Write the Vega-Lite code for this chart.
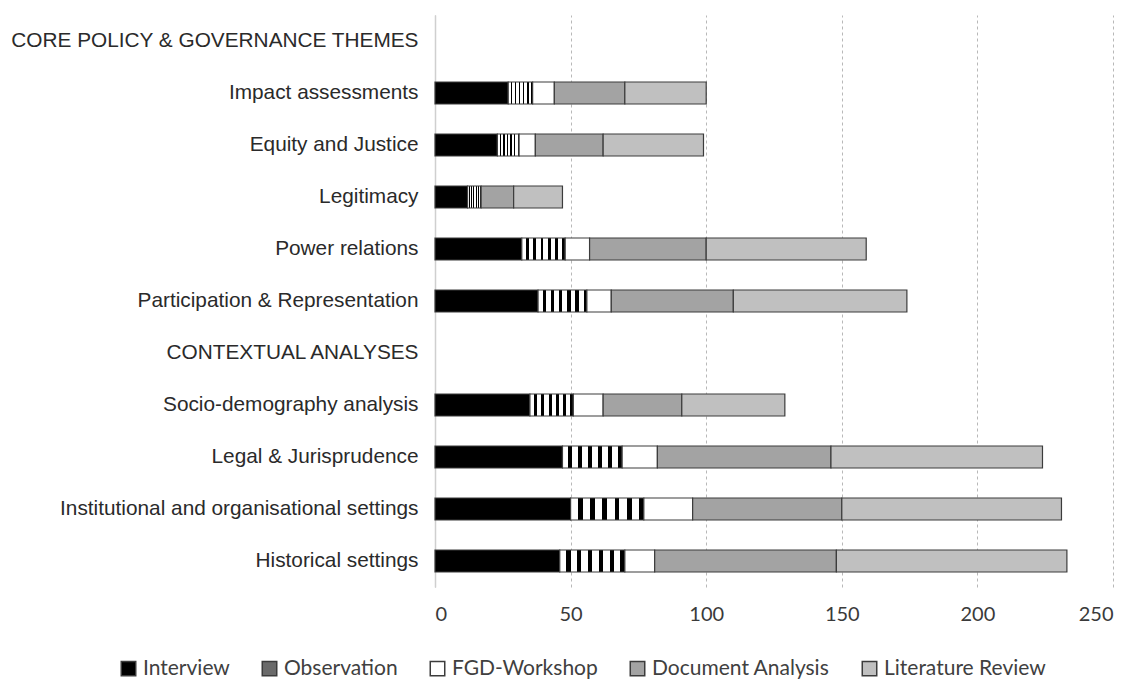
{
  "$schema": "https://vega.github.io/schema/vega-lite/v6.json",
  "width": 678,
  "height": 572,
  "autosize": {"type": "none"},
  "padding": {"left": 435, "top": 15, "right": 24, "bottom": 93},
  "background": "white",
  "data": {
    "values": [
      {"theme": "Impact assessments", "method": "Interview", "count": 27},
      {"theme": "Impact assessments", "method": "Observation", "count": 9},
      {"theme": "Impact assessments", "method": "FGD-Workshop", "count": 8},
      {"theme": "Impact assessments", "method": "Document Analysis", "count": 26},
      {"theme": "Impact assessments", "method": "Literature Review", "count": 30},
      {"theme": "Equity and Justice", "method": "Interview", "count": 23},
      {"theme": "Equity and Justice", "method": "Observation", "count": 8},
      {"theme": "Equity and Justice", "method": "FGD-Workshop", "count": 6},
      {"theme": "Equity and Justice", "method": "Document Analysis", "count": 25},
      {"theme": "Equity and Justice", "method": "Literature Review", "count": 37},
      {"theme": "Legitimacy", "method": "Interview", "count": 12},
      {"theme": "Legitimacy", "method": "Observation", "count": 5},
      {"theme": "Legitimacy", "method": "Document Analysis", "count": 12},
      {"theme": "Legitimacy", "method": "Literature Review", "count": 18},
      {"theme": "Power relations", "method": "Interview", "count": 32},
      {"theme": "Power relations", "method": "Observation", "count": 16},
      {"theme": "Power relations", "method": "FGD-Workshop", "count": 9},
      {"theme": "Power relations", "method": "Document Analysis", "count": 43},
      {"theme": "Power relations", "method": "Literature Review", "count": 59},
      {"theme": "Participation & Representation", "method": "Interview", "count": 38},
      {"theme": "Participation & Representation", "method": "Observation", "count": 18},
      {"theme": "Participation & Representation", "method": "FGD-Workshop", "count": 9},
      {"theme": "Participation & Representation", "method": "Document Analysis", "count": 45},
      {"theme": "Participation & Representation", "method": "Literature Review", "count": 64},
      {"theme": "Socio-demography analysis", "method": "Interview", "count": 35},
      {"theme": "Socio-demography analysis", "method": "Observation", "count": 16},
      {"theme": "Socio-demography analysis", "method": "FGD-Workshop", "count": 11},
      {"theme": "Socio-demography analysis", "method": "Document Analysis", "count": 29},
      {"theme": "Socio-demography analysis", "method": "Literature Review", "count": 38},
      {"theme": "Legal & Jurisprudence", "method": "Interview", "count": 47},
      {"theme": "Legal & Jurisprudence", "method": "Observation", "count": 22},
      {"theme": "Legal & Jurisprudence", "method": "FGD-Workshop", "count": 13},
      {"theme": "Legal & Jurisprudence", "method": "Document Analysis", "count": 64},
      {"theme": "Legal & Jurisprudence", "method": "Literature Review", "count": 78},
      {"theme": "Institutional and organisational settings", "method": "Interview", "count": 50},
      {"theme": "Institutional and organisational settings", "method": "Observation", "count": 27},
      {"theme": "Institutional and organisational settings", "method": "FGD-Workshop", "count": 18},
      {"theme": "Institutional and organisational settings", "method": "Document Analysis", "count": 55},
      {"theme": "Institutional and organisational settings", "method": "Literature Review", "count": 81},
      {"theme": "Historical settings", "method": "Interview", "count": 46},
      {"theme": "Historical settings", "method": "Observation", "count": 24},
      {"theme": "Historical settings", "method": "FGD-Workshop", "count": 11},
      {"theme": "Historical settings", "method": "Document Analysis", "count": 67},
      {"theme": "Historical settings", "method": "Literature Review", "count": 85}
    ]
  },
  "transform": [
    {"calculate": "indexof(['Interview', 'Observation', 'FGD-Workshop', 'Document Analysis', 'Literature Review'], datum.method)", "as": "methodOrder"}
  ],
  "mark": {"type": "bar", "stroke": "#3c3c3c", "strokeWidth": 1.2},
  "encoding": {
    "y": {
      "field": "theme",
      "type": "nominal",
      "sort": null,
      "scale": {
        "domain": [
          "CORE POLICY & GOVERNANCE THEMES",
          "Impact assessments",
          "Equity and Justice",
          "Legitimacy",
          "Power relations",
          "Participation & Representation",
          "CONTEXTUAL ANALYSES",
          "Socio-demography analysis",
          "Legal & Jurisprudence",
          "Institutional and organisational settings",
          "Historical settings"
        ],
        "paddingInner": 0.577,
        "paddingOuter": 0.2885
      },
      "axis": {
        "title": null,
        "ticks": false,
        "domain": true,
        "domainColor": "#cfcfcf",
        "domainWidth": 1.5,
        "labelFont": "Liberation Sans",
        "labelFontSize": 20.8,
        "labelColor": "#2a2a2a",
        "labelPadding": 17,
        "labelLimit": 500,
        "grid": false
      }
    },
    "x": {
      "field": "count",
      "type": "quantitative",
      "stack": "zero",
      "scale": {"domain": [0, 250], "nice": false},
      "axis": {
        "title": null,
        "values": [0, 50, 100, 150, 200, 250],
        "domain": false,
        "ticks": false,
        "grid": true,
        "gridColor": "#b8b8b8",
        "gridDash": [3, 3],
        "gridWidth": 1,
        "labelFont": "Lato",
        "labelFontSize": 20,
        "labelColor": "#3a3a3a",
        "labelPadding": 17
      }
    },
    "order": {"field": "methodOrder", "type": "quantitative"},
    "fill": {
      "condition": {
        "test": "datum.method === 'Observation'",
        "value": {
          "gradient": "linear", "x1": 0, "y1": 0, "x2": 1, "y2": 0,
          "stops": [
            {"offset": 0, "color": "#ffffff"}, {"offset": 0.1, "color": "#ffffff"}, {"offset": 0.1, "color": "#000000"}, {"offset": 0.1667, "color": "#000000"},
            {"offset": 0.1667, "color": "#ffffff"}, {"offset": 0.2667, "color": "#ffffff"}, {"offset": 0.2667, "color": "#000000"}, {"offset": 0.3333, "color": "#000000"},
            {"offset": 0.3333, "color": "#ffffff"}, {"offset": 0.4333, "color": "#ffffff"}, {"offset": 0.4333, "color": "#000000"}, {"offset": 0.5, "color": "#000000"},
            {"offset": 0.5, "color": "#ffffff"}, {"offset": 0.6, "color": "#ffffff"}, {"offset": 0.6, "color": "#000000"}, {"offset": 0.6667, "color": "#000000"},
            {"offset": 0.6667, "color": "#ffffff"}, {"offset": 0.7667, "color": "#ffffff"}, {"offset": 0.7667, "color": "#000000"}, {"offset": 0.8333, "color": "#000000"},
            {"offset": 0.8333, "color": "#ffffff"}, {"offset": 0.9333, "color": "#ffffff"}, {"offset": 0.9333, "color": "#000000"}, {"offset": 1, "color": "#000000"}
          ]
        }
      },
      "field": "method",
      "type": "nominal",
      "sort": ["Interview", "Observation", "FGD-Workshop", "Document Analysis", "Literature Review"],
      "scale": {
        "domain": ["Interview", "Observation", "FGD-Workshop", "Document Analysis", "Literature Review"],
        "range": ["#000000", "#6a6a6a", "#ffffff", "#a3a3a3", "#c0c0c0"]
      },
      "legend": {
        "title": null,
        "orient": "none",
        "legendX": -317,
        "legendY": 643,
        "direction": "horizontal",
        "symbolType": "square",
        "symbolSize": 210,
        "labelFont": "Lato",
        "labelFontSize": 21,
        "labelColor": "#404040",
        "labelOffset": 4,
        "labelLimit": 400,
        "columnPadding": 29,
        "encode": {
          "symbols": {
            "stroke": {"value": "#333333"},
            "strokeWidth": {"value": 1.2}
          }
        }
      }
    }
  },
  "config": {"view": {"stroke": null}}
}
